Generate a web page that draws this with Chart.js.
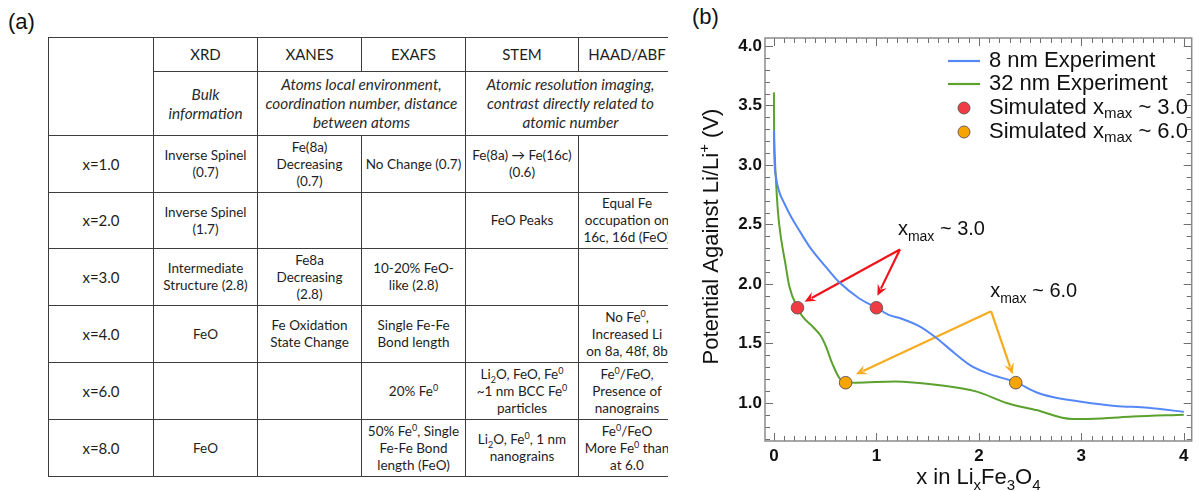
<!DOCTYPE html>
<html>
<head>
<meta charset="utf-8">
<script src="https://cdn.jsdelivr.net/npm/chart.js@4"></script>
<style>
  html, body { margin: 0; padding: 0; background: #fff; }
  body { width: 1199px; height: 491px; position: relative; overflow: hidden; }
  .panel-label { position: absolute; font-family: "Liberation Sans", Arial, sans-serif; font-size: 22px; color: #111; }
  #tableWrap { position: absolute; left: 0; top: 0; width: 668px; height: 491px; overflow: hidden; }
  #tableWrap table {
    position: absolute; left: 48px; top: 37px; width: 627px;
    border-collapse: collapse; table-layout: fixed;
    font-family: Lato, "Open Sans", sans-serif; font-size: 13.5px; color: #1e1e1e;
  }
  #tableWrap td { border: 1.5px solid #3c3c3c; text-align: center; vertical-align: middle; padding: 0 1px; line-height: 17px; white-space: nowrap; }
  #tableWrap tr.head td { font-size: 15px; }
  #tableWrap tr.desc td { font-style: italic; font-size: 15.3px; line-height: 19px; color: #2a2a2a; }
  #tableWrap td.rowhead { font-size: 15px; }
  #tableWrap sup, #tableWrap sub { font-size: 9px; line-height: 0; }
  #chartBox { position: absolute; left: 690px; top: 0; width: 509px; height: 491px; }
</style>
</head>
<body>
<div id="tableWrap">
  <table>
    <colgroup>
      <col style="width:105px"><col style="width:104px"><col style="width:104px">
      <col style="width:104px"><col style="width:113px"><col style="width:97px">
    </colgroup>
    <tr class="head" style="height:34px">
      <td rowspan="2"></td><td>XRD</td><td>XANES</td><td>EXAFS</td><td>STEM</td><td>HAAD/ABF</td>
    </tr>
    <tr class="desc" style="height:64px">
      <td>Bulk<br>information</td>
      <td colspan="2">Atoms local environment,<br>coordination number, distance<br>between atoms</td>
      <td colspan="2">Atomic resolution imaging,<br>contrast directly related to<br>atomic number</td>
    </tr>
    <tr style="height:57px">
      <td class="rowhead">x=1.0</td><td>Inverse Spinel<br>(0.7)</td><td>Fe(8a)<br>Decreasing<br>(0.7)</td>
      <td>No Change (0.7)</td><td>Fe(8a) → Fe(16c)<br>(0.6)</td><td></td>
    </tr>
    <tr style="height:56px">
      <td class="rowhead">x=2.0</td><td>Inverse Spinel<br>(1.7)</td><td></td><td></td>
      <td>FeO Peaks</td><td>Equal Fe<br>occupation on<br>16c, 16d (FeO)</td>
    </tr>
    <tr style="height:57px">
      <td class="rowhead">x=3.0</td><td>Intermediate<br>Structure (2.8)</td><td>Fe8a<br>Decreasing<br>(2.8)</td>
      <td>10-20% FeO-<br>like (2.8)</td><td></td><td></td>
    </tr>
    <tr style="height:57px">
      <td class="rowhead">x=4.0</td><td>FeO</td><td>Fe Oxidation<br>State Change</td>
      <td>Single Fe-Fe<br>Bond length</td><td></td><td>No Fe<sup>0</sup>,<br>Increased Li<br>on 8a, 48f, 8b</td>
    </tr>
    <tr style="height:57px">
      <td class="rowhead">x=6.0</td><td></td><td></td>
      <td>20% Fe<sup>0</sup></td><td>Li<sub>2</sub>O, FeO, Fe<sup>0</sup><br>~1 nm BCC Fe<sup>0</sup><br>particles</td>
      <td>Fe<sup>0</sup>/FeO,<br>Presence of<br>nanograins</td>
    </tr>
    <tr style="height:57px">
      <td class="rowhead">x=8.0</td><td>FeO</td><td></td>
      <td>50% Fe<sup>0</sup>, Single<br>Fe-Fe Bond<br>length (FeO)</td><td>Li<sub>2</sub>O, Fe<sup>0</sup>, 1 nm<br>nanograins</td>
      <td>Fe<sup>0</sup>/FeO<br>More Fe<sup>0</sup> than<br>at 6.0</td>
    </tr>
  </table>
</div>
<div class="panel-label" style="left:8px; top:9px">(a)</div>
<div class="panel-label" style="left:692px; top:4px">(b)</div>
<div id="chartBox"><canvas id="voltChart"></canvas></div>

<script>
// discharge curves, x in LixFe3O4 vs potential (V)
const blueX = [0, 0.005, 0.02, 0.05, 0.1, 0.17, 0.24, 0.35, 0.5, 0.63, 0.83, 1.0, 1.12, 1.24, 1.43,
  1.58, 1.76, 1.91, 2.08, 2.37, 2.56, 2.72, 3.0, 3.33, 3.65, 4.0];
const blueV = [3.29, 3.05, 2.90, 2.78, 2.68, 2.56, 2.46, 2.31, 2.15, 2.02, 1.88, 1.80, 1.74, 1.71, 1.64,
  1.55, 1.42, 1.32, 1.25, 1.17, 1.09, 1.05, 1.01, 0.975, 0.96, 0.925];
const greenX = [0, 0.002, 0.01, 0.02, 0.04, 0.07, 0.11, 0.15, 0.23, 0.28, 0.38, 0.46, 0.51, 0.57, 0.66,
  0.80, 1.18, 1.60, 1.98, 2.27, 2.56, 2.91, 3.2, 3.5, 4.0];
const greenV = [3.61, 3.30, 3.05, 2.87, 2.60, 2.38, 2.18, 1.98, 1.80, 1.725, 1.64, 1.56, 1.47, 1.33, 1.19,
  1.17, 1.18, 1.15, 1.095, 1.00, 0.94, 0.865, 0.87, 0.885, 0.90];

// simulated points
const sim3X = [0.23, 1.0];
const sim3V = [1.80, 1.80];
const sim6X = [0.70, 2.36];
const sim6V = [1.17, 1.17];

// annotation arrows: apex then tips, in data units
const arrow3 = [[1.23, 2.29], [0.30, 1.85], [1.01, 1.90]];
const arrow6 = [[2.12, 1.77], [0.80, 1.24], [2.33, 1.24]];
const label3 = [1.21, 2.29];
const label6 = [2.11, 1.77];

const xTickLabels = [0, 1, 2, 3, 4];
const yTickLabels = [1.0, 1.5, 2.0, 2.5, 3.0, 3.5, 4.0];

const BLUE = '#5588f6', GREEN = '#5ba12d', RED = '#f03a44', ORANGE = '#f6a500';
const RED_ARROW = '#f0141a', ORANGE_ARROW = '#f7ab1f';
const FONT = '"Liberation Sans", Arial, Helvetica, sans-serif';

const toXY = (xs, ys) => xs.map((v, i) => ({ x: v, y: ys[i] }));

// text with sub/superscript pieces: [text, 'sub'|'sup'|undefined]
function richWidth(ctx, parts, size) {
  let w = 0;
  parts.forEach(([t, k]) => {
    ctx.font = (k ? Math.round(size * 0.68) : size) + 'px ' + FONT;
    w += ctx.measureText(t).width;
  });
  return w;
}
function drawRich(ctx, parts, x, y, size) {
  parts.forEach(([t, k]) => {
    const s = k ? Math.round(size * 0.68) : size;
    ctx.font = s + 'px ' + FONT;
    const dy = k === 'sub' ? size * 0.28 : k === 'sup' ? -size * 0.42 : 0;
    ctx.fillText(t, x, y + dy);
    x += ctx.measureText(t).width;
  });
}

function arrow(ctx, x0, y0, x1, y1, color) {
  const ang = Math.atan2(y1 - y0, x1 - x0);
  const L = 11, W = 5;
  ctx.strokeStyle = color; ctx.fillStyle = color; ctx.lineWidth = 2.2;
  ctx.beginPath();
  ctx.moveTo(x0, y0);
  ctx.lineTo(x1 - Math.cos(ang) * (L - 3), y1 - Math.sin(ang) * (L - 3));
  ctx.stroke();
  ctx.beginPath();
  ctx.moveTo(x1, y1);
  ctx.lineTo(x1 - L * Math.cos(ang) + W * Math.sin(ang), y1 - L * Math.sin(ang) - W * Math.cos(ang));
  ctx.lineTo(x1 - (L - 4) * Math.cos(ang), y1 - (L - 4) * Math.sin(ang));
  ctx.lineTo(x1 - L * Math.cos(ang) - W * Math.sin(ang), y1 - L * Math.sin(ang) + W * Math.cos(ang));
  ctx.closePath();
  ctx.fill();
}

const arrowsPlugin = {
  id: 'arrows',
  beforeDatasetsDraw(chart) {
    const { ctx, scales: { x, y } } = chart;
    ctx.save();
    ctx.lineJoin = 'miter';
    [[arrow3, RED_ARROW], [arrow6, ORANGE_ARROW]].forEach(([pts, col]) => {
      const ax = x.getPixelForValue(pts[0][0]), ay = y.getPixelForValue(pts[0][1]);
      pts.slice(1).forEach(p => arrow(ctx, ax, ay, x.getPixelForValue(p[0]), y.getPixelForValue(p[1]), col));
    });
    ctx.restore();
  },
  afterDatasetsDraw(chart) {
    const { ctx, scales: { x, y } } = chart;
    ctx.save();
    ctx.fillStyle = '#111';
    ctx.textBaseline = 'alphabetic';
    const lab = (pos, num) => drawRich(ctx, [['x'], ['max', 'sub'], [' ~ ' + num]],
      x.getPixelForValue(pos[0]), y.getPixelForValue(pos[1]) - 14, 20);
    lab(label3, '3.0');
    lab(label6, '6.0');
    ctx.restore();
  }
};

const framePlugin = {
  id: 'frame',
  afterDraw(chart) {
    const { ctx, chartArea: a, scales: { x, y } } = chart;
    ctx.save();
    ctx.strokeStyle = '#6f6f6f';
    ctx.lineWidth = 1;
    const seg = (x0, y0, x1, y1) => { ctx.beginPath(); ctx.moveTo(x0, y0); ctx.lineTo(x1, y1); ctx.stroke(); };
    for (let i = Math.ceil(x.min * 10); i <= Math.floor(x.max * 10); i++) {
      const px = Math.round(x.getPixelForValue(i / 10)) + 0.5;
      const len = i % 10 === 0 ? 8 : 5;
      seg(px, a.bottom, px, a.bottom - len);
      seg(px, a.top, px, a.top + len);
    }
    for (let i = Math.ceil(y.min * 10); i <= Math.floor(y.max * 10); i++) {
      const py = Math.round(y.getPixelForValue(i / 10)) + 0.5;
      const len = i % 5 === 0 ? 8 : 5;
      seg(a.left, py, a.left + len, py);
      seg(a.right, py, a.right - len, py);
    }
    ctx.strokeStyle = '#8a8a8a';
    ctx.lineWidth = 1.5;
    ctx.strokeRect(a.left, a.top, a.right - a.left, a.bottom - a.top);

    // legend
    const lx = a.left + 183, tx = a.left + 224, rows = [61, 84, 108, 132];
    ctx.lineWidth = 2.2;
    ctx.strokeStyle = BLUE; seg(lx, rows[0], lx + 32, rows[0]);
    ctx.strokeStyle = GREEN; seg(lx, rows[1], lx + 32, rows[1]);
    [[RED, rows[2]], [ORANGE, rows[3]]].forEach(([c, ry]) => {
      ctx.beginPath(); ctx.arc(lx + 16, ry, 6, 0, Math.PI * 2);
      ctx.fillStyle = c; ctx.fill();
      ctx.lineWidth = 1; ctx.strokeStyle = '#6d5a55'; ctx.stroke();
    });
    ctx.fillStyle = '#111';
    ctx.textBaseline = 'middle';
    drawRich(ctx, [['8 nm Experiment']], tx, rows[0], 22);
    drawRich(ctx, [['32 nm Experiment']], tx, rows[1], 22);
    drawRich(ctx, [['Simulated x'], ['max', 'sub'], [' ~ 3.0']], tx, rows[2], 22);
    drawRich(ctx, [['Simulated x'], ['max', 'sub'], [' ~ 6.0']], tx, rows[3], 22);

    // axis titles
    ctx.textBaseline = 'alphabetic';
    const xt = [['x in Li'], ['x', 'sub'], ['Fe'], ['3', 'sub'], ['O'], ['4', 'sub']];
    const xw = richWidth(ctx, xt, 22);
    drawRich(ctx, xt, (a.left + a.right) / 2 - xw / 2, 484, 22);
    const yt = [['Potential Against Li/Li'], ['+', 'sup'], [' (V)']];
    const yw = richWidth(ctx, yt, 22);
    ctx.translate(28, (a.top + a.bottom) / 2 - 3);
    ctx.rotate(-Math.PI / 2);
    drawRich(ctx, yt, -yw / 2, 0, 22);
    ctx.restore();
  }
};

new Chart(document.getElementById('voltChart'), {
  type: 'line',
  data: {
    datasets: [
      { label: 'Simulated xmax ~ 3.0', type: 'scatter', data: toXY(sim3X, sim3V), order: 0,
        pointRadius: 6.3, pointBackgroundColor: RED, pointBorderColor: '#6d5a55', pointBorderWidth: 1 },
      { label: 'Simulated xmax ~ 6.0', type: 'scatter', data: toXY(sim6X, sim6V), order: 0,
        pointRadius: 6.3, pointBackgroundColor: ORANGE, pointBorderColor: '#6d5a55', pointBorderWidth: 1 },
      { label: '8 nm Experiment', data: toXY(blueX, blueV), order: 1, borderColor: BLUE, borderWidth: 2,
        pointRadius: 0, cubicInterpolationMode: 'monotone', fill: false },
      { label: '32 nm Experiment', data: toXY(greenX, greenV), order: 1, borderColor: GREEN, borderWidth: 2,
        pointRadius: 0, cubicInterpolationMode: 'monotone', fill: false }
    ]
  },
  options: {
    responsive: true,
    maintainAspectRatio: false,
    animation: false,
    devicePixelRatio: 1,
    layout: { padding: { top: 38, right: 1, left: 0, bottom: 0 } },
    plugins: { legend: { display: false }, tooltip: { enabled: false } },
    scales: {
      x: {
        type: 'linear', min: -0.087, max: 4.077,
        afterBuildTicks: s => { s.ticks = xTickLabels.map(v => ({ value: v })); },
        afterFit: s => { s.height = 50; },
        grid: { display: false, drawTicks: false }, border: { display: false },
        ticks: { color: '#111', padding: 5, maxRotation: 0, font: { family: FONT, size: 17, weight: 'bold' },
          callback: v => String(v) }
      },
      y: {
        type: 'linear', min: 0.68, max: 4.067,
        afterBuildTicks: s => { s.ticks = yTickLabels.map(v => ({ value: v })); },
        afterFit: s => { s.width = 75; },
        grid: { display: false, drawTicks: false }, border: { display: false },
        ticks: { color: '#111', padding: 3, font: { family: FONT, size: 17, weight: 'bold' },
          callback: v => Number(v).toFixed(1) }
      }
    }
  },
  plugins: [arrowsPlugin, framePlugin]
});
</script>
</body>
</html>
